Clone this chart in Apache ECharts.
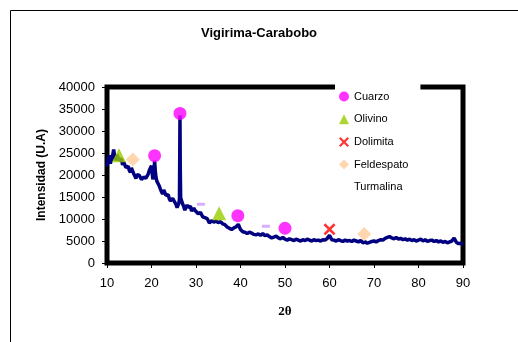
<!DOCTYPE html>
<html>
<head>
<meta charset="utf-8">
<script src="https://cdn.jsdelivr.net/npm/echarts@6/dist/echarts.min.js"></script>
<style>
  html, body { margin: 0; padding: 0; background: #fff; }
  #main { width: 518px; height: 342px; }
</style>
</head>
<body>
<div id="main"></div>
<script>
// difractograma: 2θ e intensidad
var twoTheta = [
  10.0, 10.25, 10.5, 10.75, 11.0, 11.25, 11.5, 11.75, 12.0, 12.25,
  12.5, 12.75, 13.0, 13.25, 13.5, 13.75, 14.0, 14.25, 14.5, 14.75,
  15.0, 15.25, 15.5, 15.75, 16.0, 16.25, 16.5, 16.75, 17.0, 17.25,
  17.5, 17.75, 18.0, 18.25, 18.5, 18.75, 19.0, 19.25, 19.5, 19.75,
  20.0, 20.15, 20.3, 20.45, 20.6, 20.7, 20.85, 21.0, 21.2, 21.35,
  21.5, 21.75, 22.0, 22.25, 22.5, 22.75, 23.0, 23.25, 23.5, 23.75,
  24.0, 24.25, 24.5, 24.75, 25.0, 25.25, 25.5, 25.75, 26.0, 26.15,
  26.28, 26.34, 26.4, 26.46, 26.55, 26.75, 27.0, 27.25, 27.5, 27.75,
  28.0, 28.25, 28.5, 28.75, 29.0, 29.25, 29.5, 29.75, 30.0,
  30.5, 31.0, 31.5, 32.0,
  32.5, 33.0, 33.5, 34.0, 34.5, 35.0, 35.5, 36.0, 36.5, 37.0,
  37.5, 38.0, 38.5, 39.0, 39.5, 40.0, 40.5, 41.0, 41.5, 42.0,
  42.5, 43.0, 43.5, 44.0, 44.5, 45.0, 45.5, 46.0, 46.5, 47.0,
  47.5, 48.0, 48.5, 49.0, 49.5, 50.0, 50.5, 51.0, 51.5, 52.0,
  52.5, 53.0, 53.5, 54.0, 54.5, 55.0, 55.5, 56.0, 56.5, 57.0,
  57.5, 58.0, 58.5, 59.0, 59.5, 60.0, 60.5, 61.0, 61.5, 62.0,
  62.5, 63.0, 63.5, 64.0, 64.5, 65.0, 65.5, 66.0, 66.5, 67.0,
  67.5, 68.0, 68.5, 69.0, 69.5, 70.0, 70.5, 71.0, 71.5, 72.0,
  72.5, 73.0, 73.5, 74.0, 74.5, 75.0, 75.5, 76.0, 76.5, 77.0,
  77.5, 78.0, 78.5, 79.0, 79.5, 80.0, 80.5, 81.0, 81.5, 82.0,
  82.5, 83.0, 83.5, 84.0, 84.5, 85.0, 85.5, 86.0, 86.5, 87.0,
  87.5, 88.0, 88.5, 89.0, 89.5, 90.0
];
var intensity = [
  21900, 23500, 24500, 22600, 22800, 24300, 25800, 23900, 23400, 24600,
  24200, 23300, 23000, 23700, 22300, 22900, 22600, 21700, 21300, 22000,
  21100, 20600, 21600, 20900, 20300, 19800, 19200, 20100, 20500, 19900,
  19600, 19000, 18800, 19500, 19900, 19300, 19400, 20200, 21000, 21600,
  22100, 20500, 19000, 19600, 21200, 23300, 21000, 19500, 18600, 18400,
  18700, 17500, 16800, 16200, 15700, 16600, 16200, 15400, 15000, 15500,
  14600, 14100, 13800, 14700, 14400, 13800, 13300, 12600, 12500, 13600,
  14500, 24000, 33500, 22000, 14800, 14200, 13400, 12800, 12000, 12700,
  13200, 12600, 12300, 12900, 11800, 12100, 12500, 12000, 11700,
  11200, 11500, 10500, 10300,
  10100, 9100, 9600, 9300, 9500, 9200, 9400, 8900, 8700, 8200,
  7900, 7600, 8000, 8200, 8800, 7600, 7100, 7000, 6700, 7000,
  6800, 6500, 6400, 6600, 6300, 6700, 6200, 6400, 6000, 5700,
  5900, 6100, 5700, 5500, 5800, 5400, 5200, 5500, 5300, 5100,
  5400, 5200, 5000, 5300, 5100, 5400, 5200, 5000, 5300, 5100,
  5200, 5000, 5300, 5200, 5600, 6300, 5300, 5200, 5000, 5300,
  5100, 4900, 5200, 5000, 5100, 4900, 5200, 5000, 4800, 5100,
  4600, 4800, 4500, 4700, 4900, 5000, 4800, 5100, 5300, 5200,
  5600, 5800, 6000, 5700, 5500, 5800, 5400, 5600, 5300, 5500,
  5200, 5400, 5100, 5300, 5000, 5200, 5400, 5000, 5300, 4900,
  5100, 5200, 4900, 5100, 4800, 5000, 4700, 4900, 4600, 4800,
  5000, 5700, 4700, 4400, 4500, 4200
];

// picos identificados (2θ, intensidad)
var cuarzoX = [20.7, 26.4, 39.4, 50.0];
var cuarzoY = [24400, 34000, 10750, 7900];
var olivinoX = [12.7, 35.2];
var olivinoY = [24500, 11300];
var dolimitaX = [60.0];
var dolimitaY = [7650];
var feldespatoX = [15.8, 67.8];
var feldespatoY = [23550, 6600];
var turmalinaX = [31.1, 45.7];
var turmalinaY = [13350, 8350];

var xTicks = { min: 10, max: 90, interval: 10 };
var yTicks = { min: 0, max: 40000, interval: 5000 };

function pairs(xs, ys) {
  var out = [];
  for (var i = 0; i < xs.length; i++) {
    out.push([xs[i], ys[i]]);
  }
  return out;
}

// simbolo X (dolimita)
var crossPath = 'path://M0,1.5 L1.5,0 L5,3.5 L8.5,0 L10,1.5 L6.5,5 L10,8.5 L8.5,10 L5,6.5 L1.5,10 L0,8.5 L3.5,5 Z';

var chart = echarts.init(document.getElementById('main'), null, { renderer: 'canvas' });

var option = {
  animation: false,
  backgroundColor: '#fff',
  textStyle: { fontFamily: 'Liberation Sans, Arial, sans-serif' },
  title: {
    text: 'Vigirima-Carabobo',
    left: 'center',
    top: 22,
    textStyle: { fontSize: 13, fontWeight: 'bold', color: '#000' }
  },
  graphic: [{
    // marco exterior del grafico
    type: 'rect',
    shape: { x: 10.5, y: 10.5, width: 600, height: 400 },
    style: { fill: 'none', stroke: '#000', lineWidth: 1 },
    silent: true
  }],
  legend: {
    orient: 'vertical',
    left: 335,
    top: 84,
    padding: [7, 12, 6, 4],
    itemWidth: 10,
    itemHeight: 10,
    itemGap: 11.7,
    backgroundColor: '#fff',
    textStyle: { fontSize: 11, color: '#000' },
    data: [
      { name: 'Cuarzo', icon: 'circle' },
      { name: 'Olivino', icon: 'triangle' },
      { name: 'Dolimita', icon: crossPath },
      { name: 'Feldespato', icon: 'diamond' },
      { name: 'Turmalina', itemStyle: { opacity: 0 } }
    ]
  },
  grid: {
    left: 107,
    right: 55,
    top: 87,
    bottom: 79,
    show: true,
    borderWidth: 5,
    borderColor: '#000',
    backgroundColor: '#fff'
  },
  xAxis: {
    type: 'value',
    min: xTicks.min,
    max: xTicks.max,
    interval: xTicks.interval,
    name: '2θ',
    nameLocation: 'middle',
    nameGap: 42,
    nameTextStyle: { fontFamily: 'Liberation Serif, Times New Roman, serif', fontSize: 13, fontWeight: 'bold', color: '#000' },
    axisLine: { show: false },
    axisTick: { show: true, length: 5, lineStyle: { color: '#000', width: 1 } },
    axisLabel: { fontSize: 13, color: '#000', margin: 14 },
    splitLine: { show: false }
  },
  yAxis: {
    type: 'value',
    min: yTicks.min,
    max: yTicks.max,
    interval: yTicks.interval,
    name: 'Intensidad (U.A)',
    nameLocation: 'middle',
    nameGap: 51,
    nameTextStyle: { fontSize: 12, fontWeight: 'bold', color: '#000' },
    axisLine: { show: false },
    axisTick: { show: true, length: 5, lineStyle: { color: '#000', width: 1 } },
    axisLabel: {
      fontSize: 13,
      color: '#000',
      margin: 12,
      formatter: function (v) { return String(v); }
    },
    splitLine: { show: false }
  },
  series: [
    {
      name: 'Difractograma',
      type: 'line',
      data: pairs(twoTheta, intensity),
      showSymbol: false,
      lineStyle: { color: '#000080', width: 3.5 },
      z: 2
    },
    {
      name: 'Cuarzo',
      type: 'scatter',
      symbol: 'circle',
      symbolSize: 13,
      itemStyle: { color: '#FF00FF' },
      data: pairs(cuarzoX, cuarzoY),
      z: 3
    },
    {
      name: 'Olivino',
      type: 'scatter',
      symbol: 'triangle',
      symbolSize: 14,
      itemStyle: { color: '#99CC00' },
      data: pairs(olivinoX, olivinoY),
      z: 3
    },
    {
      name: 'Dolimita',
      type: 'scatter',
      symbol: crossPath,
      symbolSize: 12,
      itemStyle: { color: '#FF0000' },
      data: pairs(dolimitaX, dolimitaY),
      z: 3
    },
    {
      name: 'Feldespato',
      type: 'scatter',
      symbol: 'diamond',
      symbolSize: 14,
      itemStyle: { color: '#FFCC99' },
      data: pairs(feldespatoX, feldespatoY),
      z: 3
    },
    {
      name: 'Turmalina',
      type: 'scatter',
      symbol: 'rect',
      symbolSize: [8, 3],
      itemStyle: { color: '#CC99FF' },
      data: pairs(turmalinaX, turmalinaY),
      z: 3
    }
  ]
};

chart.setOption(option);

window.onresize = function () {
  chart.resize();
};
</script>
</body>
</html>
